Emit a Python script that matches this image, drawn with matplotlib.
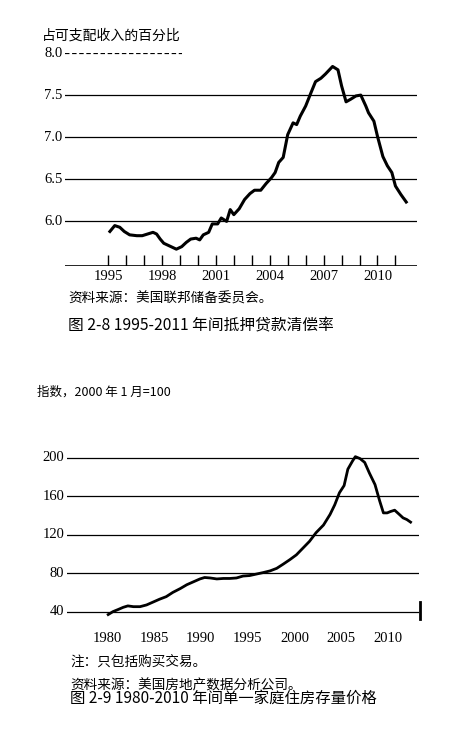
import numpy as np
import matplotlib
matplotlib.use('Agg')
import matplotlib.pyplot as plt

plt.rcParams['font.family'] = ['Noto Sans CJK SC', 'DejaVu Sans']

# 图 2-8 抵押贷款清偿率（占可支配收入的百分比）
yr_a = [1995.1, 1995.37, 1995.65, 1995.9, 1996.2, 1996.6, 1996.9, 1997.2, 1997.5, 1997.7,
        1997.9, 1998.1, 1998.5, 1998.8, 1999.1, 1999.35, 1999.6, 1999.9, 2000.1, 2000.3,
        2000.6, 2000.8, 2001.1, 2001.3, 2001.6, 2001.8, 2002.0, 2002.3, 2002.6, 2002.9,
        2003.15, 2003.5, 2003.8, 2004.1, 2004.3, 2004.5, 2004.75, 2005.0, 2005.3, 2005.5,
        2005.7, 2006.0, 2006.3, 2006.55, 2006.85, 2007.1, 2007.5, 2007.8, 2008.0, 2008.25,
        2008.5, 2008.8, 2009.07, 2009.35, 2009.5, 2009.8, 2010.0, 2010.3, 2010.55, 2010.8,
        2011.0, 2011.3, 2011.6]
val_a = [5.88, 5.95, 5.93, 5.88, 5.84, 5.83, 5.83, 5.85, 5.87, 5.85,
         5.79, 5.74, 5.70, 5.67, 5.70, 5.75, 5.79, 5.80, 5.78, 5.84,
         5.87, 5.97, 5.97, 6.04, 6.00, 6.14, 6.08, 6.15, 6.26, 6.33,
         6.37, 6.37, 6.45, 6.52, 6.58, 6.70, 6.76, 7.03, 7.17, 7.15,
         7.25, 7.37, 7.53, 7.66, 7.70, 7.75, 7.84, 7.80, 7.61, 7.42,
         7.45, 7.49, 7.50, 7.37, 7.29, 7.19, 7.01, 6.77, 6.66, 6.58,
         6.42, 6.32, 6.23]
grid_a = [6.0, 6.5, 7.0, 7.5]
ticks_a = list(range(1995, 2012))
labels_a = [1995, 1998, 2001, 2004, 2007, 2010]

# 图 2-9 单一家庭住房存量价格指数（2000 年 1 月=100）
yr_b = [1980.1, 1980.6, 1981.2, 1981.7, 1982.2, 1982.8, 1983.5, 1984.2, 1984.9, 1985.6,
        1986.3, 1987.0, 1987.8, 1988.5, 1989.2, 1989.9, 1990.4, 1991.0, 1991.7, 1992.4,
        1993.1, 1993.8, 1994.5, 1995.2, 1995.9, 1996.7, 1997.4, 1998.1, 1998.8, 1999.5,
        2000.2, 2000.9, 2001.6, 2002.3, 2003.1, 2003.8, 2004.3, 2004.8, 2005.3, 2005.7,
        2006.2, 2006.5, 2007.0, 2007.5, 2008.0, 2008.6, 2009.1, 2009.5, 2009.9, 2010.25,
        2010.7, 2011.2, 2011.6, 2012.0, 2012.4]
val_b = [37, 40, 42.4, 44.5, 46, 45.2, 45.2, 47, 50, 53,
         55.6, 60, 64, 68, 71, 74, 75.5, 75, 74, 74.5,
         74.5, 75, 77, 77.5, 79, 80.7, 82.4, 85, 89.4, 94,
         99, 106, 113, 122, 130, 141, 151, 163.5, 171, 188,
         196.5, 201, 199, 195, 184, 172, 155, 142.6, 142.6, 144,
         145.4, 141, 137.4, 135.7, 133]
grid_b = [40, 80, 120, 160, 200]
labels_b = [1980, 1985, 1990, 1995, 2000, 2005, 2010]

W, H = 477, 741
fig = plt.figure(figsize=(W / 100, H / 100), dpi=100)


def px(x, y):
    return x / W, 1 - y / H


serif = 'Liberation Serif'

# ---- 上图 ----
ax1 = fig.add_axes([65 / W, 1 - 266 / H, 352 / W, 213 / H])
ax1.set_xlim(1992.6, 2012.2)
ax1.set_ylim(5.47, 8.0)
for g in grid_a:
    ax1.axhline(g, color='black', lw=0.9)
ax1.plot([1992.6, 1999.1], [8.0, 8.0], color='black', lw=1.6, ls=(0, (2, 1.2)))
ax1.axhline(5.47, color='black', lw=1.2)
ax1.vlines(ticks_a, 5.47, 5.60, color='black', lw=1.0)
ax1.plot(yr_a, val_a, color='black', lw=2.2)
for s in ax1.spines.values():
    s.set_visible(False)
ax1.set_xticks([])
ax1.set_yticks([])
for lab in labels_a:
    ax1.text(lab, 5.34, str(lab), ha='center', va='center', fontsize=10.5,
             family=serif)
for g in grid_a + [8.0]:
    ax1.text(1992.45, g, '%.1f' % g, ha='right', va='center', fontsize=10.5,
             family=serif)

fig.text(*px(42, 36), '占可支配收入的百分比', fontsize=10, va='center')
fig.text(*px(68, 299), '资料来源：美国联邦储备委员会。', fontsize=9.8, va='center')
fig.text(*px(68, 326), '图 2-8 1995-2011 年间抵押贷款清偿率', fontsize=11.3, va='center')

# ---- 下图 ----
ax2 = fig.add_axes([67 / W, 1 - 621.3 / H, 352 / W, 173.3 / H])
ax2.set_xlim(1975.7, 2013.3)
ax2.set_ylim(30, 210)
for g in grid_b:
    ax2.axhline(g, color='black', lw=0.9)
ax2.plot(yr_b, val_b, color='black', lw=2.0)
ax2.plot([2013.45, 2013.45], [32, 50], color='black', lw=2.0, clip_on=False)
for s in ax2.spines.values():
    s.set_visible(False)
ax2.set_xticks([])
ax2.set_yticks([])
for lab in labels_b:
    ax2.text(lab, 12.5, str(lab), ha='center', va='center', fontsize=10.5,
             family=serif)
for g in grid_b:
    ax2.text(1975.4, g, str(g), ha='right', va='center', fontsize=10.5,
             family=serif)

fig.text(*px(37, 392), '指数，2000 年 1 月=100', fontsize=9, va='center')
fig.text(*px(70, 662), '注：只包括购买交易。', fontsize=9.8, va='center')
fig.text(*px(70, 685), '资料来源：美国房地产数据分析公司。', fontsize=9.8, va='center')
fig.text(*px(70, 698), '图 2-9 1980-2010 年间单一家庭住房存量价格', fontsize=11.1, va='center')

fig.savefig('out.png', dpi=100, facecolor='white')
